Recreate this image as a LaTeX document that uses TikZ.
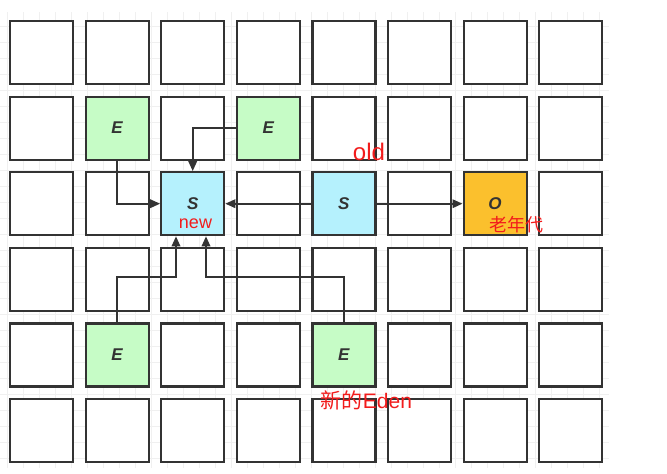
\documentclass[tikz,border=0pt]{standalone}
\usepackage{fontspec}
\setmainfont{Liberation Sans}
\newfontfamily\cjk{Noto Sans CJK SC}
\usetikzlibrary{arrows.meta}
\definecolor{edge}{HTML}{333333}
\definecolor{egreen}{HTML}{C6FCC6}
\definecolor{sblue}{HTML}{B5F1FD}
\definecolor{oorange}{HTML}{FBC02D}
\definecolor{lbl}{HTML}{F21C1C}
\definecolor{bggrid}{HTML}{F0F0F0}
\begin{document}
\begin{tikzpicture}[x=1pt,y=-1pt,
  gridline/.style={draw=bggrid,line width=0.8pt},
  cell/.style={draw=edge,line width=2.2pt,minimum size=63pt,inner sep=0pt,fill=white,
    node contents={},text=edge,font=\fontsize{17}{19}\selectfont\bfseries\itshape},
  eden/.style={fill=egreen,node contents={E}},
  surv/.style={fill=sblue,node contents={S}},
  oldg/.style={fill=oorange,node contents={O}},
  c11/.style={eden}, c31/.style={eden}, c14/.style={eden}, c44/.style={eden},
  c22/.style={surv}, c42/.style={surv}, c62/.style={oldg},
  arr/.style={draw=edge,line width=1.8pt,-{Triangle[length=10pt,width=8.5pt]}},
  note/.style={text=lbl,inner sep=0pt}
]
\fill[white] (0,0) rectangle (667,474);
\useasboundingbox (0,0) rectangle (667,474);
\foreach \x in {7,23,...,599} \draw[gridline] (\x,12) -- (\x,468);
\foreach \y in {26,42,...,458} \draw[gridline] (0,\y) -- (609,\y);
\foreach \i in {0,...,7}{
  \foreach \j in {0,...,5}{
    \node (c\i\j) at ({41.5+75.6*\i},{52.5+75.6*\j}) [cell, c\i\j/.try];
  }
}
\coordinate (k1) at (176,277);
\coordinate (k2) at (206,277);
\draw[arr] (c11.south) |- (c22.west);
\draw[arr] (c31.west) -| (c22.north);
\draw[arr] (c42.west) -- (c22.east);
\draw[arr] (c42.east) -- (c62.west);
\draw[arr] (c14.north) |- (k1) -- (k1 |- c22.south);
\draw[arr] (c44.north) |- (k2) -- (k2 |- c22.south);
\node[note,font=\fontsize{24}{28}\selectfont,anchor=base] (lold) at (369,160) {old};
\node[note,font=\fontsize{18}{21}\selectfont,anchor=base] (lnew) at (195.5,228.5) {new};
\node[note,font=\fontsize{18}{21}\selectfont\cjk] (lold2) at (516,225) {老年代};
\node[note,font=\fontsize{21}{24}\selectfont] (leden) at (366.5,400) {{\cjk 新的}Eden};
\end{tikzpicture}
\end{document}
